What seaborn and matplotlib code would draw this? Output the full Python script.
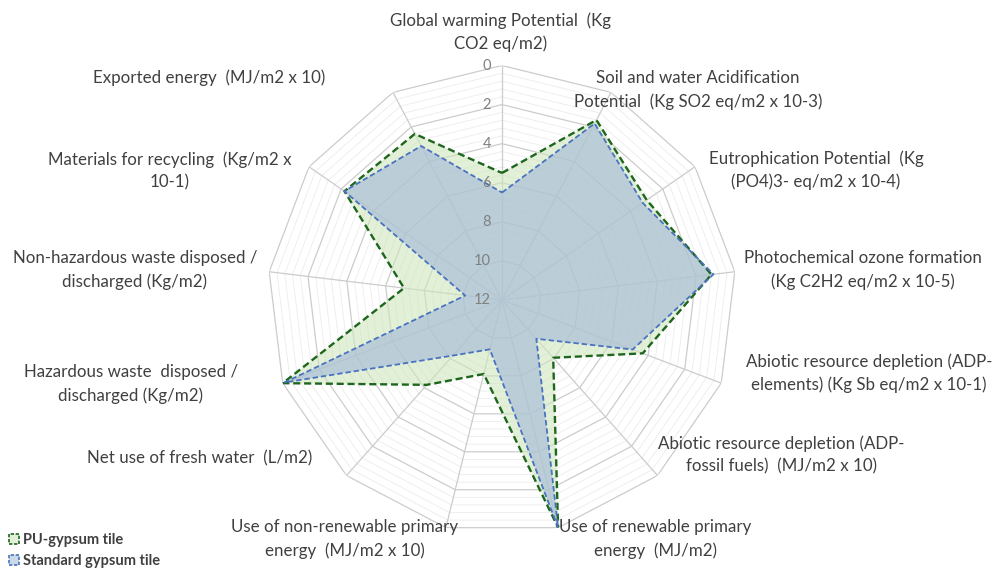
import numpy as np
import pandas as pd
import matplotlib
matplotlib.use("Agg")
import matplotlib.pyplot as plt
import matplotlib.transforms as mtransforms
from matplotlib.patches import Patch
import seaborn as sns

# Impact categories, clockwise from the top of the chart
categories = [
    "Global warming Potential  (Kg\nCO2 eq/m2)",
    "Soil and water Acidification\nPotential  (Kg SO2 eq/m2 x 10-3)",
    "Eutrophication Potential  (Kg\n(PO4)3- eq/m2 x 10-4)",
    "Photochemical ozone formation\n(Kg C2H2 eq/m2 x 10-5)",
    "Abiotic resource depletion (ADP-\nelements) (Kg Sb eq/m2 x 10-1)",
    "Abiotic resource depletion (ADP-\nfossil fuels)  (MJ/m2 x 10)",
    "Use of renewable primary\nenergy  (MJ/m2)",
    "Use of non-renewable primary\nenergy  (MJ/m2 x 10)",
    "Net use of fresh water  (L/m2)",
    "Hazardous waste  disposed /\ndischarged (Kg/m2)",
    "Non-hazardous waste disposed /\ndischarged (Kg/m2)",
    "Materials for recycling  (Kg/m2 x\n10-1)",
    "Exported energy  (MJ/m2 x 10)",
]

pu_gypsum = [5.5, 1.6, 3.0, 1.2, 4.3, 8.05, 0.0, 8.1, 6.2, 0.0, 6.95, 2.2, 2.4]
standard_gypsum = [6.5, 1.8, 3.25, 1.1, 4.85, 9.35, 0.0, 9.4, 8.2, 0.1, 10.1, 2.2, 3.1]

series_names = ["PU-gypsum tile", "Standard gypsum tile"]
radial_ticks = [0, 2, 4, 6, 8, 10, 12]

# Label anchor points (pixels from the top-left of the figure)
label_xy = [
    (501, 32), (698, 90), (816, 170), (863, 270), (869, 373), (781, 455),
    (655, 539), (345, 539), (200, 458), (131, 384), (135, 270), (170, 171),
    (209, 78),
]

sns.set_theme(style="white")
plt.rcParams["font.family"] = ["Lato", "DejaVu Sans"]

W, H = 992, 570
fig = plt.figure(figsize=(W / 100, H / 100), dpi=100)
cx, cy, R = 502, 300, 234.5
ax = fig.add_axes([(cx - R) / W, (H - cy - R) / H, 2 * R / W, 2 * R / H],
                  projection="polar")
ax.set_theta_zero_location("N")
ax.set_theta_direction(-1)
ax.set_rlim(12, 0)
ax.grid(False)
ax.set_xticks([])
ax.set_yticks([])
ax.spines["polar"].set_visible(False)
ax.patch.set_alpha(0)

n = len(categories)
theta = np.arange(n) * 2 * np.pi / n
theta_closed = np.append(theta, theta[0])

# Polygonal web: minor rings, major rings and spokes
for v in np.arange(0, 12, 0.4):
    if abs(v / 2 - round(v / 2)) < 1e-6:
        continue
    ax.plot(theta_closed, [v] * (n + 1), color="#ececec", lw=0.6, zorder=1)
for v in radial_ticks[:-1]:
    ax.plot(theta_closed, [v] * (n + 1), color="#cccccc", lw=0.9, zorder=1.2)
for t in theta:
    ax.plot([t, t], [0, 12], color="#cccccc", lw=0.9, zorder=1.2)

# Long-form table for seaborn
rows = []
for name, vals in zip(series_names, [pu_gypsum, standard_gypsum]):
    closed = list(vals) + [vals[0]]
    for i, (t, v) in enumerate(zip(theta_closed, closed)):
        rows.append({"series": name, "order": i, "theta": t, "value": v})
df = pd.DataFrame(rows)

fills = {"PU-gypsum tile": ("#cfe6bd", 0.6), "Standard gypsum tile": ("#9fb6da", 0.58)}
edges = {"PU-gypsum tile": ("#1d661d", 1.7), "Standard gypsum tile": ("#4a72c0", 1.3)}

for k, name in enumerate(series_names):
    sub = df[df["series"] == name]
    fc, a = fills[name]
    ax.fill(sub["theta"], sub["value"], color=fc, alpha=a, lw=0, zorder=2 + k)
for k, name in enumerate(series_names):
    sub = df[df["series"] == name]
    ec, lw = edges[name]
    sns.lineplot(data=sub, x="theta", y="value", sort=False, estimator=None,
                 ax=ax, color=ec, lw=lw, linestyle=(0, (3, 1.6)),
                 legend=False, zorder=4 + k)
ax.set_xlabel("")
ax.set_ylabel("")
ax.set_rlim(12, 0)

# Radial value labels along the top spoke
off = mtransforms.offset_copy(ax.transData, fig=fig, x=-11, y=0, units="dots")
for v in radial_ticks:
    ax.text(0, v, str(v), transform=off, ha="right", va="center",
            fontsize=10.5, color="#808080", zorder=6)

# Category labels
for lab, (x, y) in zip(categories, label_xy):
    fig.text(x / W, 1 - y / H, lab, ha="center", va="center", ma="center",
             fontsize=12.2, color="#404040", linespacing=1.5)

handles = [
    Patch(facecolor="#e2efd9", edgecolor="#1d661d", linestyle=(0, (2, 1)), lw=1.2),
    Patch(facecolor="#c9d9e6", edgecolor="#4a72c0", linestyle=(0, (2, 1)), lw=1.2),
]
leg = fig.legend(handles, series_names, loc="lower left",
                 bbox_to_anchor=(0.0, -0.012), frameon=False,
                 handlelength=0.7, handleheight=0.7, handletextpad=0.3,
                 labelspacing=0.5, borderaxespad=0.2,
                 prop={"family": ["Lato", "DejaVu Sans"], "weight": "bold", "size": 10.5})
for t in leg.get_texts():
    t.set_color("#404040")

fig.savefig("out.png", dpi=100, facecolor="white")
